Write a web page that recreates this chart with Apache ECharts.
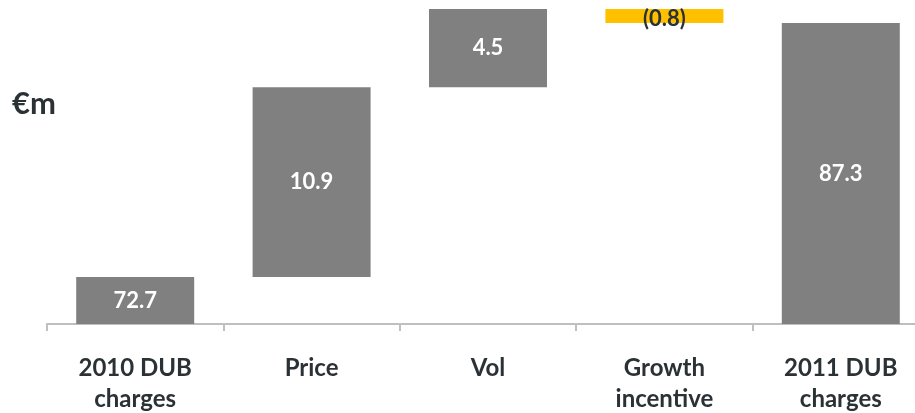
<!DOCTYPE html>
<html>
<head>
<meta charset="utf-8">
<script src="https://cdn.jsdelivr.net/npm/echarts@6/dist/echarts.min.js"></script>
<style>
  html, body { margin: 0; padding: 0; background: #ffffff; }
  #chart { width: 915px; height: 413px; }
</style>
</head>
<body>
<div id="chart"></div>
<script>
// DUB charges bridge, 2010 -> 2011 (€m)
const categories = ['2010 DUB\ncharges', 'Price', 'Vol', 'Growth\nincentive', '2011 DUB\ncharges'];
const changes = [72.7, 10.9, 4.5, -0.8, 87.3];
const isTotal = [true, false, false, false, true];
const valueLabels = ['72.7', '10.9', '4.5', '(0.8)', '87.3'];

const GREY = '#808080';
const AMBER = '#FFC000';
const TEXT = '#2b3236';
const AXIS = '#bfbfbf';

// Running totals give the hidden base and the visible step of each bar
const bases = [];
const steps = [];
let running = 0;
changes.forEach((v, i) => {
  if (isTotal[i]) {
    bases.push(0);
    steps.push(v);
    running = v;
  } else if (v >= 0) {
    bases.push(running);
    steps.push(v);
    running += v;
  } else {
    running += v;
    bases.push(running);
    steps.push(-v);
  }
});

const chart = echarts.init(document.getElementById('chart'));
chart.setOption({
  animation: false,
  backgroundColor: '#ffffff',
  textStyle: { fontFamily: 'Lato' },
  graphic: [{
    type: 'text',
    left: 12,
    top: 88,
    style: {
      text: '€m',
      fontFamily: 'Lato',
      fontWeight: 'bold',
      fontSize: 31,
      fill: TEXT
    }
  }],
  grid: { left: 47, top: 2, width: 882, height: 322, outerBoundsMode: 'none', containLabel: false },
  xAxis: {
    type: 'category',
    data: categories,
    axisLine: { lineStyle: { color: AXIS, width: 2 } },
    axisTick: { show: true, length: 7, lineStyle: { color: AXIS, width: 2 } },
    axisLabel: {
      interval: 0,
      margin: 29,
      color: TEXT,
      fontFamily: 'Lato',
      fontWeight: 'bold',
      fontSize: 24,
      lineHeight: 31
    }
  },
  yAxis: {
    type: 'value',
    min: 70,
    max: 88.5,
    show: false,
    splitLine: { show: false }
  },
  series: [
    {
      name: 'base',
      type: 'bar',
      stack: 'bridge',
      barWidth: 118,
      itemStyle: { color: 'transparent' },
      emphasis: { disabled: true },
      data: bases
    },
    {
      name: 'step',
      type: 'bar',
      stack: 'bridge',
      barWidth: 118,
      data: steps.map((v, i) => ({
        value: v,
        itemStyle: { color: changes[i] < 0 ? AMBER : GREY },
        label: changes[i] < 0
          ? { color: TEXT, offset: [0, 3] }
          : { color: '#ffffff' }
      })),
      label: {
        show: true,
        position: 'inside',
        fontFamily: 'Lato',
        fontWeight: 'bold',
        fontSize: 22,
        formatter: p => valueLabels[p.dataIndex]
      }
    }
  ]
});
</script>
</body>
</html>
